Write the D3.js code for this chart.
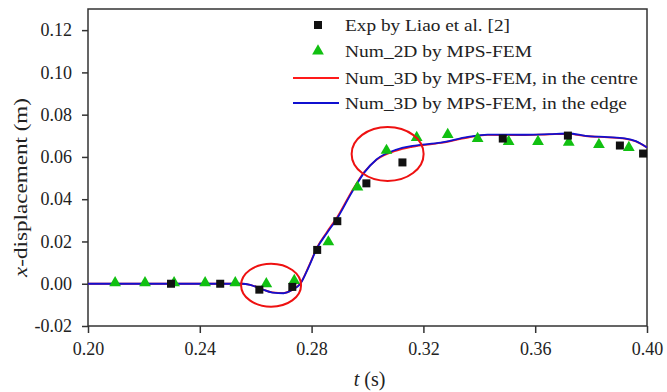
<!DOCTYPE html>
<html><head><meta charset="utf-8">
<script src="https://cdn.jsdelivr.net/npm/d3@7"></script>
</head><body style="margin:0;background:#fff">
<svg id="c" width="667" height="392" font-family="Liberation Serif"></svg>
<script>
const expT = [0.2297,0.2473,0.2613,0.2731,0.2820,0.2892,0.2996,0.3125,0.3484,0.3717,0.3903,0.3986];
const expV = [0.0000,0.0000,-0.0028,-0.0015,0.0160,0.0296,0.0475,0.0574,0.0687,0.0701,0.0654,0.0616];
const num2dT = [0.2097,0.2204,0.2308,0.2419,0.2527,0.2638,0.2738,0.2860,0.2964,0.3068,0.3176,0.3287,0.3394,0.3505,0.3610,0.3720,0.3828,0.3935];
const num2dV = [0,0,0,0,0,-0.0005,0.0010,0.0193,0.0452,0.0626,0.0687,0.0701,0.0682,0.0668,0.0668,0.0664,0.0654,0.0640];
const edgeT = [0.200,0.250,0.255,0.258,0.262,0.266,0.270,0.273,0.276,0.279,0.282,0.2855,0.2892,0.2943,0.2989,0.3032,0.3104,0.316,0.3262,0.336,0.343,0.355,0.365,0.372,0.378,0.386,0.392,0.396,0.400];
const edgeV = [0,0,0,-0.0005,-0.0025,-0.0042,-0.0045,-0.0030,0.0000,0.0080,0.0170,0.0240,0.0310,0.0430,0.0527,0.0588,0.0635,0.0652,0.0668,0.0695,0.0706,0.0705,0.0708,0.0711,0.0700,0.0694,0.0688,0.0675,0.0645];
const centreT = [0.200,0.250,0.255,0.258,0.262,0.266,0.270,0.273,0.276,0.279,0.282,0.2855,0.2892,0.2943,0.2989,0.3032,0.3104,0.316,0.3262,0.336,0.343,0.355,0.365,0.372,0.378,0.386,0.392,0.396,0.400];
const centreV = [0,0,0,-0.0005,-0.0024,-0.0041,-0.0044,-0.0029,0.0002,0.0083,0.0173,0.0245,0.0316,0.0436,0.0530,0.0586,0.0630,0.0648,0.0666,0.0692,0.0704,0.0703,0.0707,0.0709,0.0699,0.0693,0.0687,0.0674,0.0645];
const xTicks = [0.20,0.24,0.28,0.32,0.36,0.40];
const yTicks = [-0.02,0.00,0.02,0.04,0.06,0.08,0.10,0.12];
const legendLabels = ["Exp by Liao et al. [2]","Num_2D by MPS-FEM","Num_3D by MPS-FEM, in the centre","Num_3D by MPS-FEM, in the edge"];
const circleCentres = [[0.2655,-0.0007],[0.3072,0.0614]];

const FONT = "Liberation Serif";
const svg = d3.select("#c");
const L=88,R=647,T=9,B=326;
const x = d3.scaleLinear().domain([0.20,0.40]).range([L,R]);
const y = d3.scaleLinear().domain([-0.02,0.13]).range([B,T]);
const axisCol="#333", txtCol="#222";
const fmt = d => d3.format(".2f")(d).replace("\u2212","-");

svg.append("rect").attr("x",L).attr("y",T).attr("width",R-L).attr("height",B-T)
  .attr("fill","none").attr("stroke",axisCol).attr("stroke-width",1.5);

const xMinor = d3.range(0.20,0.4001,0.02);
const gx = svg.append("g").attr("transform",`translate(0,${B})`);
gx.call(d3.axisBottom(x).tickValues(xMinor).tickSize(4).tickFormat(""))
  .call(g=>g.select(".domain").remove());
gx.call(d3.axisBottom(x).tickValues(xTicks).tickSize(7).tickPadding(9).tickFormat(fmt))
  .call(g=>g.selectAll(".domain").remove());
gx.attr("font-family",FONT).attr("font-size",18);
gx.selectAll("line").attr("stroke",axisCol).attr("stroke-width",1.5);
gx.selectAll("text").attr("font-family",FONT).attr("font-size",18).attr("fill",txtCol);

const yMinor = d3.range(-0.02,0.1301,0.01);
const gy = svg.append("g").attr("transform",`translate(${L},0)`);
gy.call(d3.axisLeft(y).tickValues(yMinor).tickSize(4).tickFormat(""))
  .call(g=>g.select(".domain").remove());
gy.call(d3.axisLeft(y).tickValues(yTicks).tickSize(6).tickPadding(10).tickFormat(fmt))
  .call(g=>g.selectAll(".domain").remove());
gy.attr("font-family",FONT).attr("font-size",18);
gy.selectAll("line").attr("stroke",axisCol).attr("stroke-width",1.5);
gy.selectAll("text").attr("font-family",FONT).attr("font-size",18).attr("fill",txtCol);

const yt = svg.append("text").attr("transform","translate(27,187.5) rotate(-90)")
  .attr("text-anchor","middle").attr("font-family",FONT).attr("font-size",19).attr("fill",txtCol)
  .attr("textLength",179).attr("lengthAdjust","spacingAndGlyphs");
yt.append("tspan").attr("font-style","italic").text("x");
yt.append("tspan").text("-displacement (m)");
const xt = svg.append("text").attr("x",369.5).attr("y",386).attr("text-anchor","middle")
  .attr("font-family",FONT).attr("font-size",20).attr("fill",txtCol);
xt.append("tspan").attr("font-style","italic").text("t");
xt.append("tspan").text(" (s)");

const line = d3.line().x(d=>x(d[0])).y(d=>y(d[1])).curve(d3.curveMonotoneX);
svg.append("path").datum(centreT.map((t,i)=>[t,centreV[i]])).attr("d",line)
  .attr("fill","none").attr("stroke","#ff1a1a").attr("stroke-width",1.8);
svg.append("path").datum(edgeT.map((t,i)=>[t,edgeV[i]])).attr("d",line)
  .attr("fill","none").attr("stroke","#1010d0").attr("stroke-width",1.8);

const tri = d3.symbol().type(d3.symbolTriangle).size(60);
svg.append("g").selectAll("path").data(num2dT.map((t,i)=>[t,num2dV[i]])).join("path")
  .attr("d",tri).attr("transform",d=>`translate(${x(d[0])},${y(d[1])-1})`).attr("fill","#11c011");
svg.append("g").selectAll("rect").data(expT.map((t,i)=>[t,expV[i]])).join("rect")
  .attr("x",d=>x(d[0])-4).attr("y",d=>y(d[1])-4).attr("width",8).attr("height",8).attr("fill","#111");

const radii=[[30,21.5],[36,27]];
svg.append("g").selectAll("ellipse").data(circleCentres).join("ellipse")
  .attr("cx",d=>x(d[0])).attr("cy",d=>y(d[1])).attr("rx",(d,i)=>radii[i][0]).attr("ry",(d,i)=>radii[i][1])
  .attr("fill","none").attr("stroke","#ee1111").attr("stroke-width",2);

const lg = svg.append("g");
const ly=[25,51,78,103];
const lw=[165,187,293,282];
lg.append("rect").attr("x",314).attr("y",ly[0]-4).attr("width",8).attr("height",8).attr("fill","#111");
lg.append("path").attr("d",tri).attr("transform",`translate(318,${ly[1]})`).attr("fill","#11c011");
lg.append("line").attr("x1",293).attr("x2",339).attr("y1",ly[2]).attr("y2",ly[2]).attr("stroke","#ff1a1a").attr("stroke-width",1.8);
lg.append("line").attr("x1",293).attr("x2",339).attr("y1",ly[3]).attr("y2",ly[3]).attr("stroke","#1010d0").attr("stroke-width",1.8);
lg.selectAll("text.l").data(legendLabels).join("text").attr("class","l")
  .attr("x",345).attr("y",(d,i)=>ly[i]+6).attr("font-family",FONT).attr("font-size",17).attr("fill",txtCol)
  .attr("textLength",(d,i)=>lw[i]).attr("lengthAdjust","spacingAndGlyphs").text(d=>d);
</script>
</body></html>
